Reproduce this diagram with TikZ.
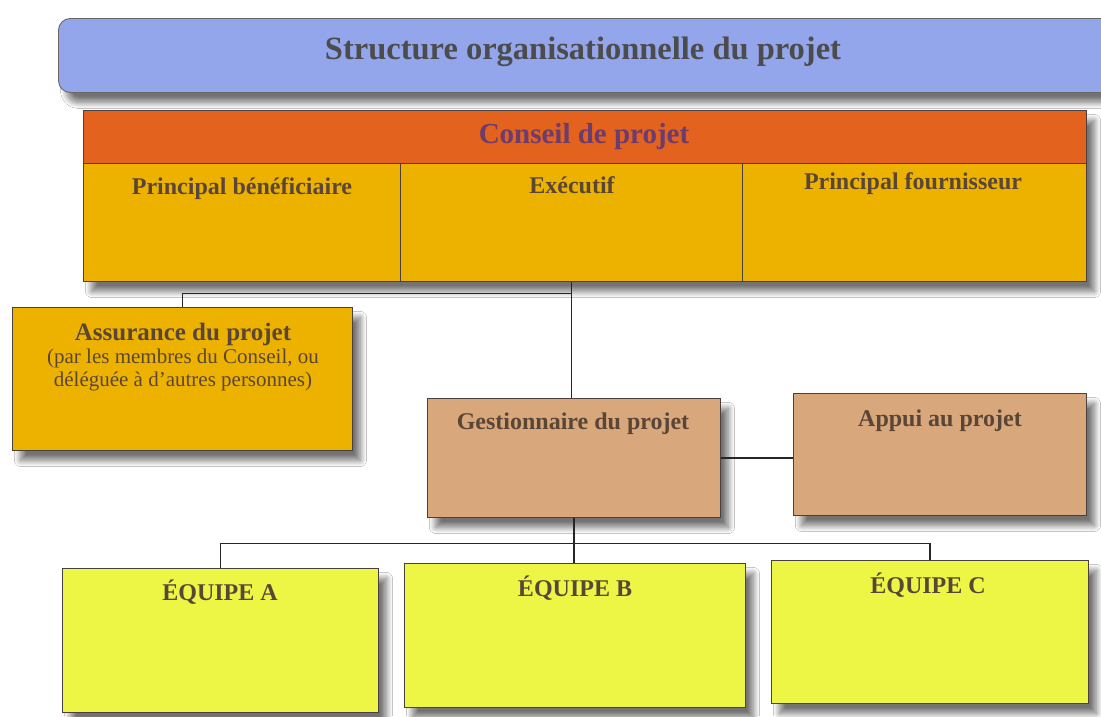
\documentclass[tikz,border=0pt]{standalone}
\usepackage{fontspec}
\setmainfont{Liberation Serif}
\usetikzlibrary{shadows.blur}
\definecolor{titleblue}{HTML}{93A6EC}
\definecolor{hdrorange}{HTML}{E2621E}
\definecolor{gold}{HTML}{EDB200}
\definecolor{tan}{HTML}{D8A77C}
\definecolor{lime}{HTML}{EDF545}
\definecolor{txt}{HTML}{5A4636}
\definecolor{hdrtxt}{HTML}{6B3C6E}
\definecolor{edge}{HTML}{4A4040}
\begin{document}
\begin{tikzpicture}[x=1pt,y=-1pt,
  box/.style={draw=edge, line width=0.9pt, anchor=north west, inner sep=0pt},
  shad/.style={blur shadow={shadow xshift=8pt, shadow yshift=-10pt, shadow blur steps=12, shadow blur radius=6pt, shadow opacity=55}},
  lbl/.style={text=txt, font=\bfseries\fontsize{24}{27}\selectfont, inner sep=0pt},
  conn/.style={draw=black!85, line width=1.1pt}]
\clip (0,0) rectangle (1101,716);
\fill[white] (0,0) rectangle (1101,716);
% title banner
\node[box, shad, fill=titleblue, draw=edge!80, rounded corners=12pt, minimum width=1070pt, minimum height=74pt] (title) at (58,18) {};
\node[text=black!70, font=\bfseries\fontsize{32.5}{36}\selectfont, inner sep=0pt] (titletxt) at (583,52) {Structure organisationnelle du projet};
% project board
\node[box, shad, fill=gold, minimum width=1003pt, minimum height=171pt] (board) at (83,110) {};
\node[box, fill=hdrorange, minimum width=1003pt, minimum height=53pt] (hdr) at (83,110) {};
\node[box, fill=gold, minimum width=317pt, minimum height=118pt] (benef) at (83,163) {};
\node[box, fill=gold, minimum width=342pt, minimum height=118pt] (exec) at (400,163) {};
\node[box, fill=gold, minimum width=344pt, minimum height=118pt] (fourn) at (742,163) {};
\node[text=hdrtxt, font=\bfseries\fontsize{29}{32}\selectfont, inner sep=0pt] (hdrtxt) at (584,137) {Conseil de projet};
\node[lbl] (benefTxt) at (242,189) {Principal bénéficiaire};
\node[lbl] (execTxt) at (572,185) {Exécutif};
\node[lbl] (fournTxt) at (913,184) {Principal fournisseur};
% assurance
\node[box, shad, fill=gold, minimum width=340pt, minimum height=143pt] (assur) at (12,307) {};
\node[text=txt, align=center, inner sep=0pt, font=\fontsize{21}{23}\selectfont] (assurTxt) at (183,357)
  {{\bfseries\fontsize{25}{23}\selectfont Assurance du projet}\\(par les membres du Conseil, ou\\déléguée à d'autres personnes)};
% manager and support
\node[box, shad, fill=tan, minimum width=293pt, minimum height=119pt] (gest) at (427,398) {};
\node[box, shad, fill=tan, minimum width=293pt, minimum height=122pt] (appui) at (793,393) {};
\node[lbl] (gestTxt) at (573,424) {Gestionnaire du projet};
\node[lbl] (appuiTxt) at (940,421) {Appui au projet};
% teams
\node[box, shad, fill=lime, minimum width=316pt, minimum height=144pt] (teamA) at (62,568) {};
\node[box, shad, fill=lime, minimum width=341pt, minimum height=144pt] (teamB) at (404,563) {};
\node[box, shad, fill=lime, minimum width=317pt, minimum height=143pt] (teamC) at (771,560) {};
\node[lbl] (teamATxt) at (220,592) {ÉQUIPE A};
\node[lbl] (teamBTxt) at (575,588) {ÉQUIPE B};
\node[lbl] (teamCTxt) at (928,585) {ÉQUIPE C};
% connectors
\coordinate (j1) at ([yshift=-12pt]exec.south);
\coordinate (j2) at ([yshift=-26pt]gest.south);
\draw[conn] (exec.south) -- (exec.south |- gest.north);
\draw[conn] (j1) -| (assur.north);
\draw[conn] (gest.east) -- (gest.east -| appui.west);
\draw[conn] (gest.south) -- (j2);
\draw[conn] (teamA.north) |- (j2) -| (teamC.north);
\draw[conn] (j2) -- (j2 |- teamB.north);
\end{tikzpicture}
\end{document}
